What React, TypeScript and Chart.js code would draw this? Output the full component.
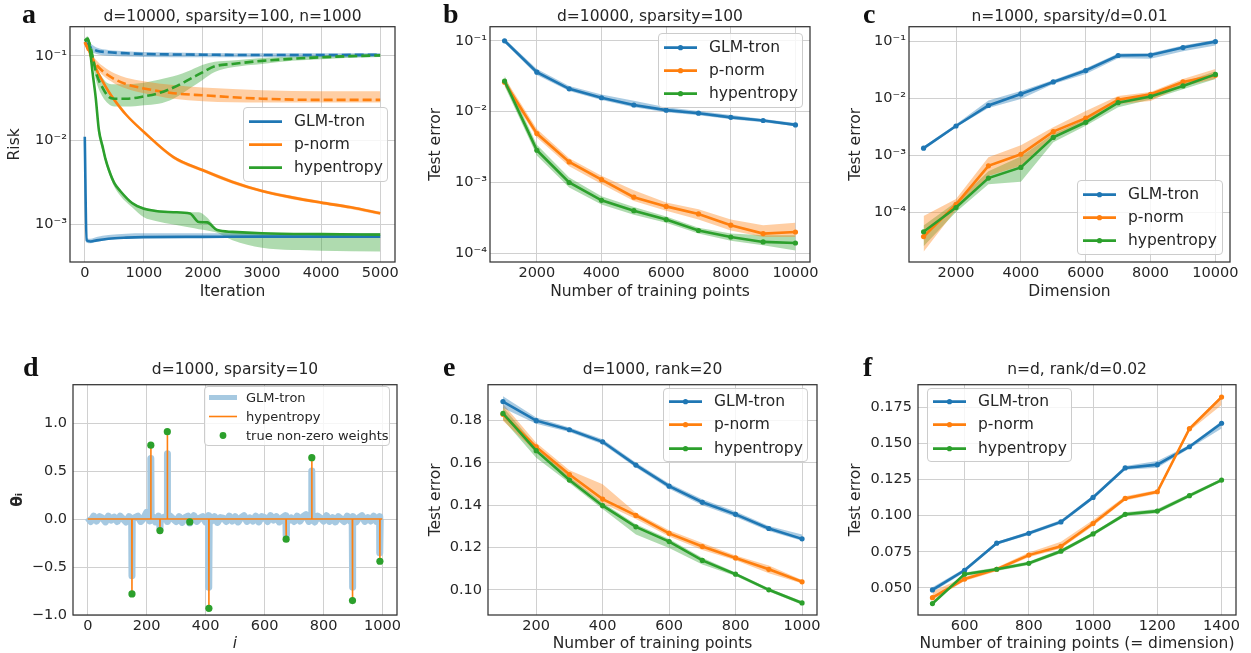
import React, { useEffect, useRef } from 'react';
import { Chart, registerables } from 'chart.js';
Chart.register(...registerables);

const BLUE = '#1f77b4';
const ORANGE = '#ff7f0e';
const GREEN = '#2ca02c';
const LIGHTBLUE = '#a6c9e1';
const TEXT = '#262626';
const GRID = '#d0d0d0';
const FONT = "'DejaVu Sans', sans-serif";

const seriesNames = ['GLM-tron', 'p-norm', 'hypentropy'];

// ---------- Panel a ----------
const aTicksX = [0, 1000, 2000, 3000, 4000, 5000];
const aTicksY = [1e-3, 1e-2, 1e-1];
const aTickLabelsY = ['10⁻³', '10⁻²', '10⁻¹'];

const aGlmSolidX = [0, 30, 100, 200, 400, 700, 1000, 2000, 3000, 4000, 5000];
const aGlmSolid = [1.1e-2, 6.5e-4, 6.3e-4, 6.5e-4, 6.8e-4, 7.0e-4, 7.1e-4, 7.15e-4, 7.2e-4, 7.2e-4, 7.2e-4];
const aGlmSolidHi = [1.15e-2, 7.0e-4, 6.8e-4, 7.1e-4, 7.5e-4, 7.8e-4, 7.9e-4, 7.9e-4, 7.9e-4, 7.9e-4, 7.9e-4];
const aGlmSolidLo = [1.05e-2, 6.1e-4, 6.0e-4, 6.2e-4, 6.6e-4, 6.9e-4, 7.0e-4, 7.0e-4, 7.0e-4, 7.0e-4, 7.0e-4];

const aGlmDashX = [0, 100, 200, 400, 700, 1000, 2000, 3000, 4000, 5000];
const aGlmDash = [0.145, 0.125, 0.115, 0.11, 0.107, 0.105, 0.103, 0.102, 0.102, 0.103];
const aGlmDashHi = [0.16, 0.14, 0.125, 0.117, 0.113, 0.111, 0.108, 0.107, 0.107, 0.108];
const aGlmDashLo = [0.135, 0.112, 0.105, 0.1, 0.098, 0.097, 0.096, 0.096, 0.096, 0.097];

const aPnSolidX = [0, 100, 200, 300, 400, 500, 700, 1000, 1500, 2000, 2500, 3000, 3500, 4000, 4500, 5000];
const aPnSolid = [0.145, 0.105, 0.068, 0.05, 0.038, 0.03, 0.02, 0.0125, 0.0063, 0.0044, 0.0032, 0.0025, 0.0021, 0.00182, 0.0016, 0.00136];
const aPnSolidHi = [0.15, 0.109, 0.071, 0.052, 0.0395, 0.031, 0.0207, 0.013, 0.0066, 0.0046, 0.00335, 0.0026, 0.0022, 0.0019, 0.00167, 0.00142];
const aPnSolidLo = [0.14, 0.101, 0.065, 0.048, 0.0365, 0.029, 0.0193, 0.012, 0.006, 0.0042, 0.00305, 0.0024, 0.002, 0.00175, 0.00153, 0.0013];

const aPnDashX = [0, 100, 200, 300, 500, 700, 1000, 1500, 2000, 3000, 4000, 5000];
const aPnDash = [0.145, 0.1, 0.078, 0.066, 0.053, 0.046, 0.041, 0.036, 0.034, 0.031, 0.03, 0.03];
const aPnDashHi = [0.15, 0.11, 0.088, 0.076, 0.062, 0.055, 0.05, 0.045, 0.042, 0.039, 0.038, 0.038];
const aPnDashLo = [0.14, 0.092, 0.07, 0.059, 0.047, 0.041, 0.036, 0.031, 0.029, 0.028, 0.028, 0.028];

const aHySolidX = [0, 50, 100, 130, 185, 240, 300, 350, 410, 500, 600, 800, 1000, 1200, 1500, 1780, 1930, 2070, 2240, 2500, 3000, 4000, 5000];
const aHySolid = [0.15, 0.16, 0.1, 0.065, 0.032, 0.013, 0.0085, 0.006, 0.0044, 0.0031, 0.0025, 0.0018, 0.00154, 0.00145, 0.0014, 0.00135, 0.00107, 0.00106, 0.00086, 0.00082, 0.00079, 0.00077, 0.00076];
const aHySolidHi = [0.16, 0.17, 0.11, 0.072, 0.036, 0.015, 0.0095, 0.0066, 0.0048, 0.0033, 0.0026, 0.00185, 0.0016, 0.0015, 0.00143, 0.0014, 0.0014, 0.00121, 0.00089, 0.00083, 0.0008, 0.00079, 0.00079];
const aHySolidLo = [0.14, 0.15, 0.09, 0.058, 0.028, 0.011, 0.0075, 0.0054, 0.004, 0.0028, 0.0022, 0.0016, 0.00122, 0.0011, 0.001, 0.00092, 0.00088, 0.00085, 0.0008, 0.00065, 0.00053, 0.00049, 0.00048];

const aHyDashX = [0, 50, 100, 150, 200, 300, 400, 500, 700, 1000, 1250, 1500, 1800, 2000, 2200, 2500, 3000, 3500, 4000, 4500, 5000];
const aHyDash = [0.15, 0.155, 0.125, 0.085, 0.06, 0.042, 0.0328, 0.031, 0.031, 0.033, 0.036, 0.042, 0.054, 0.064, 0.075, 0.08, 0.087, 0.092, 0.096, 0.099, 0.101];
const aHyDashHi = [0.16, 0.165, 0.14, 0.1, 0.075, 0.055, 0.047, 0.046, 0.046, 0.048, 0.052, 0.057, 0.068, 0.078, 0.085, 0.088, 0.094, 0.098, 0.101, 0.103, 0.105];
const aHyDashLo = [0.14, 0.145, 0.11, 0.07, 0.048, 0.033, 0.027, 0.025, 0.025, 0.026, 0.027, 0.031, 0.042, 0.052, 0.064, 0.073, 0.08, 0.087, 0.091, 0.095, 0.097];

// ---------- Panel b ----------
const bX = [1000, 2000, 3000, 4000, 5000, 6000, 7000, 8000, 9000, 10000];
const bTicksX = [2000, 4000, 6000, 8000, 10000];
const bTicksY = [1e-4, 1e-3, 1e-2, 1e-1];
const bTickLabelsY = ['10⁻⁴', '10⁻³', '10⁻²', '10⁻¹'];
const bGlm = [0.1, 0.036, 0.021, 0.0157, 0.0124, 0.0105, 0.0095, 0.0083, 0.0075, 0.0065];
const bGlmHi = [0.107, 0.04, 0.023, 0.0175, 0.0143, 0.0115, 0.0102, 0.009, 0.0079, 0.0069];
const bGlmLo = [0.094, 0.033, 0.0195, 0.0146, 0.0115, 0.0098, 0.0089, 0.0078, 0.0071, 0.0062];
const bPn = [0.026, 0.0049, 0.00195, 0.0011, 0.00062, 0.00046, 0.00036, 0.00025, 0.00019, 0.0002];
const bPnHi = [0.03, 0.0057, 0.0022, 0.00125, 0.00078, 0.00052, 0.00042, 0.0003, 0.00025, 0.00027];
const bPnLo = [0.023, 0.0043, 0.0017, 0.00095, 0.00055, 0.0004, 0.0003, 0.00021, 0.00017, 0.00017];
const bHy = [0.027, 0.00285, 0.001, 0.00056, 0.0004, 0.0003, 0.00021, 0.00017, 0.000145, 0.00014];
const bHyHi = [0.032, 0.0034, 0.00118, 0.00064, 0.00045, 0.00033, 0.00023, 0.00019, 0.00018, 0.00018];
const bHyLo = [0.023, 0.0024, 0.00085, 0.00049, 0.00035, 0.00027, 0.00019, 0.00015, 0.00013, 0.00011];

// ---------- Panel c ----------
const cX = [1000, 2000, 3000, 4000, 5000, 6000, 7000, 8000, 9000, 10000];
const cGlm = [0.00133, 0.00327, 0.0075, 0.012, 0.0195, 0.031, 0.057, 0.058, 0.0785, 0.1];
const cGlmHi = [0.00142, 0.0035, 0.0092, 0.0135, 0.021, 0.034, 0.062, 0.063, 0.085, 0.108];
const cGlmLo = [0.00124, 0.0031, 0.0068, 0.0098, 0.018, 0.027, 0.051, 0.05, 0.068, 0.085];
const cPn = [3.7e-5, 1.36e-4, 6.5e-4, 1.04e-3, 2.6e-3, 4.5e-3, 9.5e-3, 0.0118, 0.0195, 0.0255];
const cPnHi = [8.5e-5, 1.7e-4, 9.2e-4, 1.5e-3, 3.1e-3, 6e-3, 1.1e-2, 0.013, 0.022, 0.033];
const cPnLo = [2e-5, 1.1e-4, 4.3e-4, 6.5e-4, 2.2e-3, 3.8e-3, 8e-3, 9e-3, 0.0165, 0.022];
const cHy = [4.5e-5, 1.2e-4, 3.96e-4, 6.1e-4, 2.06e-3, 3.8e-3, 8.4e-3, 0.0108, 0.0166, 0.0265];
const cHyHi = [5.8e-5, 1.5e-4, 5.2e-4, 9.5e-4, 2.4e-3, 4.3e-3, 9.2e-3, 0.0118, 0.019, 0.03];
const cHyLo = [2.5e-5, 1.0e-4, 3.1e-4, 3.4e-4, 1.7e-3, 3.3e-3, 7e-3, 9.6e-3, 0.0145, 0.022];

// ---------- Panel d ----------
const dTicksX = [0, 200, 400, 600, 800, 1000];
const dTicksY = [-1.0, -0.5, 0.0, 0.5, 1.0];
const dTickLabelsY = ['−1.0', '−0.5', '0.0', '0.5', '1.0'];
const dTrueIdx = [150, 214, 245, 270, 346, 411, 673, 760, 898, 991];
const dTrueVal = [-0.78, 0.77, -0.12, 0.91, -0.03, -0.93, -0.21, 0.64, -0.85, -0.44];
const dHypVal = [-0.76, 0.77, -0.12, 0.91, -0.02, -0.93, -0.2, 0.64, -0.84, -0.42];
const dGlmSpike = [-0.59, 0.63, -0.1, 0.68, -0.04, -0.71, -0.17, 0.5, -0.71, -0.35];
// GLM-tron estimate, sampled every 10 indices (0..1000)
const dGlmNoise = [
  0.015, -0.025, 0.03, -0.02, 0.025, 0.01, -0.03, 0.03, -0.01, 0.02,
  -0.025, 0.03, 0.0, -0.03, 0.025, -0.02, 0.015, 0.03, -0.025, 0.01,
  0.07, -0.02, 0.025, -0.03, 0.03, -0.01, 0.02, -0.025, 0.03, 0.0,
  -0.025, 0.025, -0.035, 0.015, 0.03, -0.02, 0.035, -0.025, 0.01, 0.025,
  -0.03, 0.035, -0.02, 0.025, -0.035, 0.015, 0.01, -0.025, 0.03, -0.02,
  0.025, -0.03, 0.015, 0.035, -0.025, 0.01, -0.02, 0.03, -0.03, 0.025,
  0.015, -0.025, 0.035, -0.01, 0.025, -0.03, 0.015, 0.035, -0.02, 0.01,
  -0.025, 0.03, -0.02, 0.025, 0.045, -0.025, 0.015, -0.03, 0.03, 0.01,
  -0.02, 0.035, -0.025, 0.015, -0.03, 0.025, 0.0, -0.025, 0.03, -0.02,
  0.025, -0.03, 0.015, 0.035, -0.025, 0.015, -0.02, 0.03, -0.025, 0.025, 0.01,
];
const dNoiseStep = 10;

// ---------- Panel e ----------
const eX = [100, 200, 300, 400, 500, 600, 700, 800, 900, 1000];
const eTicksX = [200, 400, 600, 800, 1000];
const eTicksY = [0.1, 0.12, 0.14, 0.16, 0.18];
const eTickLabelsY = ['0.10', '0.12', '0.14', '0.16', '0.18'];
const eGlm = [0.189, 0.18, 0.1757, 0.17, 0.159, 0.149, 0.1414, 0.1357, 0.129, 0.1241];
const eGlmHi = [0.1915, 0.1815, 0.1768, 0.1712, 0.1602, 0.1503, 0.1428, 0.137, 0.1302, 0.1262];
const eGlmLo = [0.186, 0.1785, 0.1746, 0.1688, 0.1578, 0.1478, 0.14, 0.1344, 0.1278, 0.1232];
const ePn = [0.183, 0.1676, 0.1545, 0.1429, 0.1352, 0.1267, 0.1205, 0.1151, 0.1097, 0.1038];
const ePnHi = [0.188, 0.1695, 0.1565, 0.1499, 0.1365, 0.1282, 0.1222, 0.1162, 0.1115, 0.1046];
const ePnLo = [0.18, 0.165, 0.1525, 0.141, 0.1335, 0.1252, 0.1188, 0.114, 0.1078, 0.103];
const eHy = [0.1834, 0.1658, 0.1519, 0.1398, 0.1298, 0.1228, 0.1139, 0.1074, 0.1, 0.0938];
const eHyHi = [0.1865, 0.168, 0.1535, 0.1412, 0.131, 0.124, 0.1152, 0.1082, 0.1008, 0.0946];
const eHyLo = [0.1805, 0.1625, 0.1505, 0.1382, 0.1262, 0.1198, 0.112, 0.1066, 0.0992, 0.093];

// ---------- Panel f ----------
const fX = [500, 600, 700, 800, 900, 1000, 1100, 1200, 1300, 1400];
const fTicksX = [600, 800, 1000, 1200, 1400];
const fTicksY = [0.05, 0.075, 0.1, 0.125, 0.15, 0.175];
const fTickLabelsY = ['0.050', '0.075', '0.100', '0.125', '0.150', '0.175'];
const fGlm = [0.0486, 0.0622, 0.081, 0.0878, 0.0957, 0.1127, 0.1331, 0.1354, 0.1478, 0.1641];
const fGlmHi = [0.0505, 0.0635, 0.082, 0.089, 0.097, 0.114, 0.1345, 0.138, 0.149, 0.1655];
const fGlmLo = [0.047, 0.0608, 0.0798, 0.0866, 0.0944, 0.1114, 0.1318, 0.1332, 0.1466, 0.1605];
const fPn = [0.0432, 0.0561, 0.0629, 0.0727, 0.0788, 0.0946, 0.112, 0.1166, 0.1603, 0.1822];
const fPnHi = [0.0475, 0.0575, 0.0642, 0.0745, 0.082, 0.097, 0.1135, 0.1178, 0.1615, 0.1835];
const fPnLo = [0.0415, 0.0548, 0.0616, 0.0712, 0.0772, 0.0928, 0.1105, 0.1152, 0.1588, 0.1768];
const fHy = [0.0391, 0.0595, 0.0629, 0.067, 0.0754, 0.0874, 0.101, 0.1032, 0.1139, 0.1247];
const fHyHi = [0.0405, 0.0607, 0.0641, 0.0682, 0.0768, 0.0886, 0.1024, 0.1046, 0.1152, 0.1258];
const fHyLo = [0.0378, 0.0583, 0.0617, 0.0658, 0.074, 0.0862, 0.0996, 0.1018, 0.1126, 0.1236];

// ---------- helpers ----------
function rgba(hex: string, a: number) {
  const n = parseInt(hex.slice(1), 16);
  return `rgba(${(n >> 16) & 255},${(n >> 8) & 255},${n & 255},${a})`;
}
function pts(xs: number[], ys: number[]) {
  return xs.map((x, i) => ({ x, y: ys[i] }));
}
function band(xs: number[], lo: number[], hi: number[], color: string, smooth = false, alpha = 0.38) {
  const common: any = { pointRadius: 0, borderWidth: 0, order: 20, cubicInterpolationMode: smooth ? 'monotone' : 'default' };
  return [
    { ...common, data: pts(xs, hi), fill: '+1', backgroundColor: rgba(color, alpha), borderColor: rgba(color, 0) },
    { ...common, data: pts(xs, lo), fill: false, borderColor: rgba(color, 0) },
  ];
}
function line(xs: number[], ys: number[], color: string, order: number, extra: any = {}) {
  return {
    data: pts(xs, ys), borderColor: color, backgroundColor: color, borderWidth: 2.6,
    pointRadius: 0, fill: false, order, ...extra,
  };
}
const mk = { pointRadius: 2.6, pointBorderWidth: 0, pointHoverRadius: 0 };

const framePlugin = {
  id: 'frame',
  afterDatasetsDraw(chart: any) {
    const { ctx, chartArea } = chart;
    ctx.save();
    ctx.strokeStyle = '#333333';
    ctx.lineWidth = 1.25;
    ctx.strokeRect(chartArea.left, chartArea.top, chartArea.right - chartArea.left, chartArea.bottom - chartArea.top);
    ctx.restore();
  },
};

// ---------- datasets ----------
const aDatasets = [
  ...band(aGlmSolidX, aGlmSolidLo, aGlmSolidHi, BLUE, true),
  ...band(aGlmDashX, aGlmDashLo, aGlmDashHi, BLUE, true),
  ...band(aPnSolidX, aPnSolidLo, aPnSolidHi, ORANGE, true),
  ...band(aPnDashX, aPnDashLo, aPnDashHi, ORANGE, true),
  ...band(aHySolidX, aHySolidLo, aHySolidHi, GREEN, true),
  ...band(aHyDashX, aHyDashLo, aHyDashHi, GREEN, true),
  line(aGlmSolidX, aGlmSolid, BLUE, 3, { cubicInterpolationMode: 'monotone' }),
  line(aGlmDashX, aGlmDash, BLUE, 3, { cubicInterpolationMode: 'monotone', borderDash: [9, 4] }),
  line(aPnSolidX, aPnSolid, ORANGE, 2, { cubicInterpolationMode: 'monotone' }),
  line(aPnDashX, aPnDash, ORANGE, 2, { cubicInterpolationMode: 'monotone', borderDash: [9, 4] }),
  line(aHySolidX, aHySolid, GREEN, 1, { cubicInterpolationMode: 'monotone' }),
  line(aHyDashX, aHyDash, GREEN, 1, { cubicInterpolationMode: 'monotone', borderDash: [9, 4] }),
];

function threeSeries(xs: number[], g: number[][], p: number[][], h: number[][]) {
  return [
    ...band(xs, g[1], g[2], BLUE),
    ...band(xs, p[1], p[2], ORANGE),
    ...band(xs, h[1], h[2], GREEN),
    line(xs, g[0], BLUE, 3, mk),
    line(xs, p[0], ORANGE, 2, mk),
    line(xs, h[0], GREEN, 1, mk),
  ];
}
const bDatasets = threeSeries(bX, [bGlm, bGlmLo, bGlmHi], [bPn, bPnLo, bPnHi], [bHy, bHyLo, bHyHi]);
const cDatasets = threeSeries(cX, [cGlm, cGlmLo, cGlmHi], [cPn, cPnLo, cPnHi], [cHy, cHyLo, cHyHi]);
const eDatasets = threeSeries(eX, [eGlm, eGlmLo, eGlmHi], [ePn, ePnLo, ePnHi], [eHy, eHyLo, eHyHi]);
const fDatasets = threeSeries(fX, [fGlm, fGlmLo, fGlmHi], [fPn, fPnLo, fPnHi], [fHy, fHyLo, fHyHi]);

function buildD() {
  const glm: { x: number; y: number }[] = dGlmNoise.map((v, i) => ({ x: i * dNoiseStep, y: v }));
  dTrueIdx.forEach((idx, k) => {
    glm.push({ x: idx - 1, y: 0 }, { x: idx, y: dGlmSpike[k] }, { x: idx + 1, y: 0 });
  });
  glm.sort((p, q) => p.x - q.x);
  const hyp: { x: number; y: number }[] = [{ x: 0, y: 0 }];
  dTrueIdx.forEach((idx, k) => {
    hyp.push({ x: idx - 0.5, y: 0 }, { x: idx, y: dHypVal[k] }, { x: idx + 0.5, y: 0 });
  });
  hyp.push({ x: 999, y: 0 });
  return [
    { data: glm, borderColor: LIGHTBLUE, borderWidth: 7, pointRadius: 0, fill: false, order: 3, borderJoinStyle: 'round', borderCapStyle: 'butt' },
    { data: hyp, borderColor: ORANGE, borderWidth: 1.6, pointRadius: 0, fill: false, order: 2 },
    { data: pts(dTrueIdx, dTrueVal), showLine: false, pointRadius: 3.6, pointBorderWidth: 0, backgroundColor: GREEN, borderColor: GREEN, order: 1 },
  ];
}
const dDatasets = buildD();

// ---------- panel specs ----------
interface Spec {
  L: number; T: number; R: number; B: number; canvasLeft: number;
  H: number; xTitleMid: number; yTitleCenter: number;
  xMin: number; xMax: number; xTicks: number[];
  yLog: boolean; yMin: number; yMax: number; yTicks: number[]; yTickLabels: string[]; yPad: number;
  xTitle: string; yTitle: string; xItalic?: boolean; yBold?: boolean;
  datasets: any[];
}

const specs: Spec[] = [
  { L: 70, T: 25, R: 395, B: 262, canvasLeft: 0, H: 44, xTitleMid: 292, yTitleCenter: 15.3,
    xMin: -250, xMax: 5250, xTicks: aTicksX, yLog: true, yMin: 3.6e-4, yMax: 0.221, yTicks: aTicksY, yTickLabels: aTickLabelsY, yPad: 3,
    xTitle: 'Iteration', yTitle: 'Risk', datasets: aDatasets },
  { L: 490, T: 25, R: 810, B: 262, canvasLeft: 420, H: 44, xTitleMid: 292, yTitleCenter: 436.3,
    xMin: 550, xMax: 10450, xTicks: bTicksX, yLog: true, yMin: 7.55e-5, yMax: 0.158, yTicks: bTicksY, yTickLabels: bTickLabelsY, yPad: 3,
    xTitle: 'Number of training points', yTitle: 'Test error', datasets: bDatasets },
  { L: 909, T: 25, R: 1230, B: 262, canvasLeft: 840, H: 44, xTitleMid: 292, yTitleCenter: 856.3,
    xMin: 550, xMax: 10450, xTicks: bTicksX, yLog: true, yMin: 1.32e-5, yMax: 0.183, yTicks: bTicksY, yTickLabels: bTickLabelsY, yPad: 3,
    xTitle: 'Dimension', yTitle: 'Test error', datasets: cDatasets },
  { L: 73, T: 380, R: 397, B: 615, canvasLeft: 0, H: 42, xTitleMid: 643.5, yTitleCenter: 18,
    xMin: -50, xMax: 1049, xTicks: dTicksX, yLog: false, yMin: -1.0, yMax: 1.4, yTicks: dTicksY, yTickLabels: dTickLabelsY, yPad: 6,
    xTitle: 'i', yTitle: 'θᵢ', xItalic: true, yBold: true, datasets: dDatasets },
  { L: 488, T: 380, R: 817, B: 615, canvasLeft: 420, H: 42, xTitleMid: 643.5, yTitleCenter: 436.3,
    xMin: 55, xMax: 1045, xTicks: eTicksX, yLog: false, yMin: 0.0881, yMax: 0.197, yTicks: eTicksY, yTickLabels: eTickLabelsY, yPad: 6,
    xTitle: 'Number of training points', yTitle: 'Test error', datasets: eDatasets },
  { L: 918, T: 380, R: 1236, B: 615, canvasLeft: 840, H: 42, xTitleMid: 643.5, yTitleCenter: 856.3,
    xMin: 455, xMax: 1445, xTicks: fTicksX, yLog: false, yMin: 0.0312, yMax: 0.1908, yTicks: fTicksY, yTickLabels: fTickLabelsY, yPad: 6,
    xTitle: 'Number of training points (= dimension)', yTitle: 'Test error', datasets: fDatasets },
];

const TICK_SIZE = 14.5;
const LABEL_SIZE = 15.5;

function PanelChart({ s }: { s: Spec }) {
  const ref = useRef<HTMLCanvasElement>(null);
  const W = s.L - s.canvasLeft;
  const top = s.T - 10;
  const width = s.R + 25 - s.canvasLeft;
  const height = s.B + s.H - top;
  useEffect(() => {
    const lh = LABEL_SIZE * 1.2;
    const chart = new Chart(ref.current as HTMLCanvasElement, {
      type: 'line',
      data: { datasets: s.datasets },
      plugins: [framePlugin],
      options: {
        responsive: false,
        animation: false,
        events: [],
        layout: { padding: { left: 0, top: 10, right: 25, bottom: 0 } },
        plugins: { legend: { display: false }, tooltip: { enabled: false } },
        scales: {
          x: {
            type: 'linear', min: s.xMin, max: s.xMax,
            afterBuildTicks: (sc: any) => { sc.ticks = s.xTicks.map((v) => ({ value: v })); },
            afterFit: (sc: any) => { sc.height = s.H; },
            ticks: { autoSkip: false, maxRotation: 0, padding: 3, color: TEXT, font: { family: FONT, size: TICK_SIZE },
              callback: (v: any) => String(v) },
            grid: { color: GRID, lineWidth: 1, drawTicks: false },
            border: { display: false },
            title: { display: true, text: s.xTitle, color: TEXT,
              font: { family: FONT, size: LABEL_SIZE, style: s.xItalic ? 'italic' : 'normal' },
              padding: { top: 0, bottom: s.B + s.H - s.xTitleMid - lh / 2 } },
          },
          y: {
            type: s.yLog ? 'logarithmic' : 'linear', min: s.yMin, max: s.yMax,
            afterBuildTicks: (sc: any) => { sc.ticks = s.yTicks.map((v) => ({ value: v })); },
            afterFit: (sc: any) => { sc.width = W; },
            ticks: { autoSkip: false, padding: s.yPad, color: TEXT, font: { family: FONT, size: TICK_SIZE },
              callback: (_v: any, i: number) => s.yTickLabels[i] },
            grid: { color: GRID, lineWidth: 1, drawTicks: false },
            border: { display: false },
            title: { display: true, text: s.yTitle, color: TEXT,
              font: { family: FONT, size: LABEL_SIZE, weight: s.yBold ? 'bold' : 'normal' },
              padding: { top: s.yTitleCenter - s.canvasLeft - lh / 2, bottom: 0 } },
          },
        },
      } as any,
    });
    return () => chart.destroy();
  }, []);
  return (
    <canvas ref={ref} width={width} height={height}
      style={{ position: 'absolute', left: s.canvasLeft, top, width, height }} />
  );
}

// ---------- legends ----------
type Kind = 'line' | 'marker' | 'thick' | 'thin' | 'dot';
interface LegendSpec {
  left: number; top: number; width: number; height: number; fontSize: number; rowH: number; padTop: number;
  swX: number; swW: number; textX: number; rows: { label: string; color: string; kind: Kind }[];
}
const std = (kind: Kind) => seriesNames.map((label, i) => ({ label, color: [BLUE, ORANGE, GREEN][i], kind }));
const legends: LegendSpec[] = [
  { left: 243, top: 107, width: 145, height: 75, fontSize: 15.5, rowH: 23.3, padTop: 1.5, swX: 5, swW: 33, textX: 50, rows: std('line') },
  { left: 658, top: 33, width: 145, height: 75, fontSize: 15.5, rowH: 23.3, padTop: 1.5, swX: 5, swW: 33, textX: 50, rows: std('marker') },
  { left: 1077, top: 180, width: 146, height: 75, fontSize: 15.5, rowH: 23.3, padTop: 1.5, swX: 5, swW: 33, textX: 50, rows: std('marker') },
  { left: 204, top: 386, width: 186, height: 60, fontSize: 13, rowH: 19, padTop: 0.5, swX: 3.5, swW: 28, textX: 41,
    rows: [
      { label: 'GLM-tron', color: LIGHTBLUE, kind: 'thick' },
      { label: 'hypentropy', color: ORANGE, kind: 'thin' },
      { label: 'true non-zero weights', color: GREEN, kind: 'dot' },
    ] },
  { left: 663, top: 388, width: 145, height: 74, fontSize: 15.5, rowH: 23.3, padTop: 1, swX: 5, swW: 33, textX: 50, rows: std('marker') },
  { left: 927, top: 388, width: 145, height: 74, fontSize: 15.5, rowH: 23.3, padTop: 1, swX: 5, swW: 33, textX: 50, rows: std('marker') },
];

function Legend({ l }: { l: LegendSpec }) {
  return (
    <div style={{ position: 'absolute', left: l.left, top: l.top, width: l.width, height: l.height, boxSizing: 'border-box',
      border: '1px solid #cccccc', borderRadius: 4, background: 'rgba(255,255,255,0.8)', paddingTop: l.padTop,
      fontFamily: FONT, fontSize: l.fontSize, color: TEXT }}>
      {l.rows.map((r) => {
        const cy = l.rowH / 2;
        const lw = r.kind === 'thick' ? 5 : r.kind === 'thin' ? 1.6 : 2.6;
        return (
          <div key={r.label} style={{ position: 'relative', height: l.rowH }}>
            <svg width={l.swW} height={l.rowH} style={{ position: 'absolute', left: l.swX, top: 0 }}>
              {r.kind !== 'dot' && <line x1={0} y1={cy} x2={l.swW} y2={cy} stroke={r.color} strokeWidth={lw} />}
              {(r.kind === 'marker' || r.kind === 'dot') && <circle cx={l.swW / 2} cy={cy} r={r.kind === 'dot' ? 3.4 : 2.6} fill={r.color} />}
            </svg>
            <span style={{ position: 'absolute', left: l.textX, top: 0, lineHeight: `${l.rowH}px`, whiteSpace: 'nowrap' }}>{r.label}</span>
          </div>
        );
      })}
    </div>
  );
}

// ---------- titles & letters ----------
const panelTitles = ['d=10000, sparsity=100, n=1000', 'd=10000, sparsity=100', 'n=1000, sparsity/d=0.01',
  'd=1000, sparsity=10', 'd=1000, rank=20', 'n=d, rank/d=0.02'];
const panelLetters = ['a', 'b', 'c', 'd', 'e', 'f'];
const letterX = [22, 443, 863, 23, 443, 863];

export default function App() {
  return (
    <div style={{ position: 'fixed', left: 0, top: 0, width: 1251, height: 653, overflow: 'hidden', background: '#ffffff' }}>
      {specs.map((s, i) => <PanelChart key={i} s={s} />)}
      {specs.map((s, i) => {
        const baseline = i < 3 ? 21.7 : 375.5;
        return (
          <div key={'t' + i} style={{ position: 'absolute', left: (s.L + s.R) / 2 - 200, width: 400, textAlign: 'center',
            top: baseline - 0.846 * LABEL_SIZE, fontFamily: FONT, fontSize: LABEL_SIZE, lineHeight: 1, color: TEXT, whiteSpace: 'nowrap' }}>
            {panelTitles[i]}
          </div>
        );
      })}
      {panelLetters.map((c, i) => {
        const baseline = i < 3 ? 23 : 376.5;
        return (
          <div key={'l' + i} style={{ position: 'absolute', left: letterX[i], top: baseline - 23.4, fontFamily: "'Liberation Serif', serif",
            fontWeight: 'bold', fontSize: 28, lineHeight: 1, color: '#111111' }}>{c}</div>
        );
      })}
      {legends.map((l, i) => <Legend key={'g' + i} l={l} />)}
    </div>
  );
}
